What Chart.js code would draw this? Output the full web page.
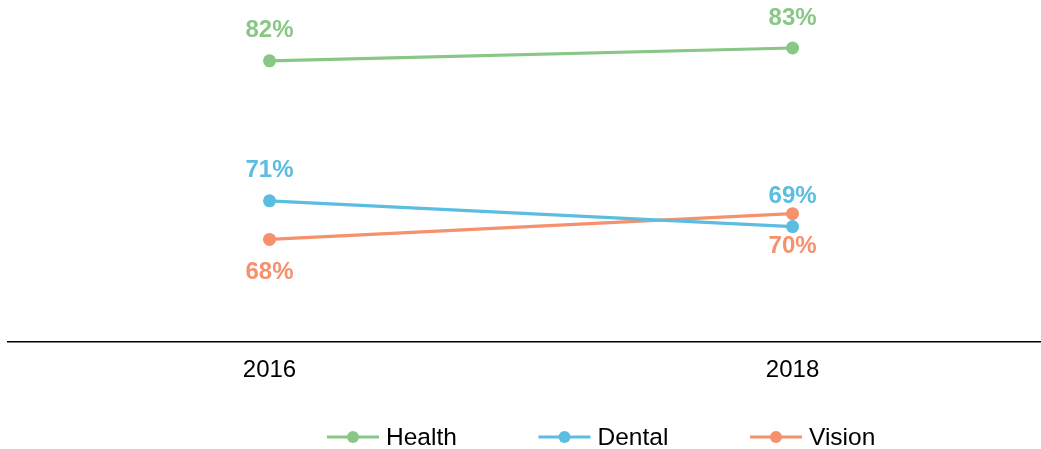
<!DOCTYPE html>
<html><head><meta charset="utf-8">
<script src="https://cdn.jsdelivr.net/npm/chart.js@4"></script>
<style>html,body{margin:0;padding:0;background:#fff;overflow:hidden;} canvas{display:block;}</style>
</head><body><canvas id="c" width="1041" height="449"></canvas>
<script>
const categories = ['2016', '2018'];
const seriesNames = ['Health', 'Dental', 'Vision'];
const health = [81.9, 82.9];
const dental = [71.0, 69.0];
const vision = [68.0, 70.0];
const seriesColors = ['#88c785', '#5bbde0', '#f5916c'];
const labelSide = ['above', 'above', 'below'];

const FONT = "Arial, 'Liberation Sans', Helvetica, sans-serif";
const seriesValues = [health, dental, vision];

const dataLabels = {
  id: 'dataLabels',
  afterDatasetsDraw(chart) {
    const ctx = chart.ctx;
    ctx.save();
    ctx.font = 'bold 24px ' + FONT;
    ctx.textAlign = 'center';
    ctx.textBaseline = 'middle';
    chart.data.datasets.forEach((ds, i) => {
      const meta = chart.getDatasetMeta(i);
      meta.data.forEach((pt, j) => {
        const v = ds.data[j].y;
        const off = labelSide[i] === 'above' ? -30 : 33;
        ctx.fillStyle = seriesColors[i];
        ctx.fillText(Math.round(v) + '%', pt.x, pt.y + off);
      });
    });
    ctx.restore();
  }
};

// Legend: line-with-dot marker followed by the series name, evenly stepped.
const lineLegend = {
  id: 'lineLegend',
  afterDraw(chart) {
    const ctx = chart.ctx;
    const y = 437, startX = 327, step = 211.5, markW = 52;
    ctx.save();
    ctx.font = '24.5px ' + FONT;
    ctx.textBaseline = 'middle';
    ctx.textAlign = 'left';
    chart.data.datasets.forEach((ds, i) => {
      const x = startX + i * step;
      ctx.strokeStyle = seriesColors[i];
      ctx.lineWidth = 3;
      ctx.beginPath(); ctx.moveTo(x, y); ctx.lineTo(x + markW, y); ctx.stroke();
      ctx.fillStyle = seriesColors[i];
      ctx.beginPath(); ctx.arc(x + markW / 2, y, 6, 0, Math.PI * 2); ctx.fill();
      ctx.fillStyle = '#000';
      ctx.fillText(ds.label, x + markW + 7, y + 1);
    });
    ctx.restore();
  }
};

new Chart(document.getElementById('c'), {
  type: 'line',
  data: {
    datasets: seriesNames.map((name, i) => ({
      label: name,
      data: categories.map((c, j) => ({ x: Number(c), y: seriesValues[i][j] })),
      borderColor: seriesColors[i],
      backgroundColor: seriesColors[i],
      borderWidth: 3.2,
      pointRadius: 6.5,
      pointHoverRadius: 6.5,
      pointBorderWidth: 0,
      fill: false,
      tension: 0
    }))
  },
  options: {
    responsive: false,
    animation: false,
    layout: { autoPadding: false, padding: { left: 8, right: 0, top: 21, bottom: 50 } },
    scales: {
      x: {
        type: 'linear',
        min: 2015,
        max: 2018.95,
        afterBuildTicks(scale) { scale.ticks = categories.map(c => ({ value: Number(c) })); },
        grid: { display: false, drawTicks: false },
        border: { display: true, color: '#000', width: 1.5 },
        ticks: { color: '#000', font: { family: FONT, size: 24 }, padding: 14, callback: v => String(v), maxRotation: 0 }
      },
      y: { display: false, min: 60, max: 85 }
    },
    plugins: {
      tooltip: { enabled: false },
      legend: { display: false }
    }
  },
  plugins: [dataLabels, lineLegend]
});
</script>
</body></html>
